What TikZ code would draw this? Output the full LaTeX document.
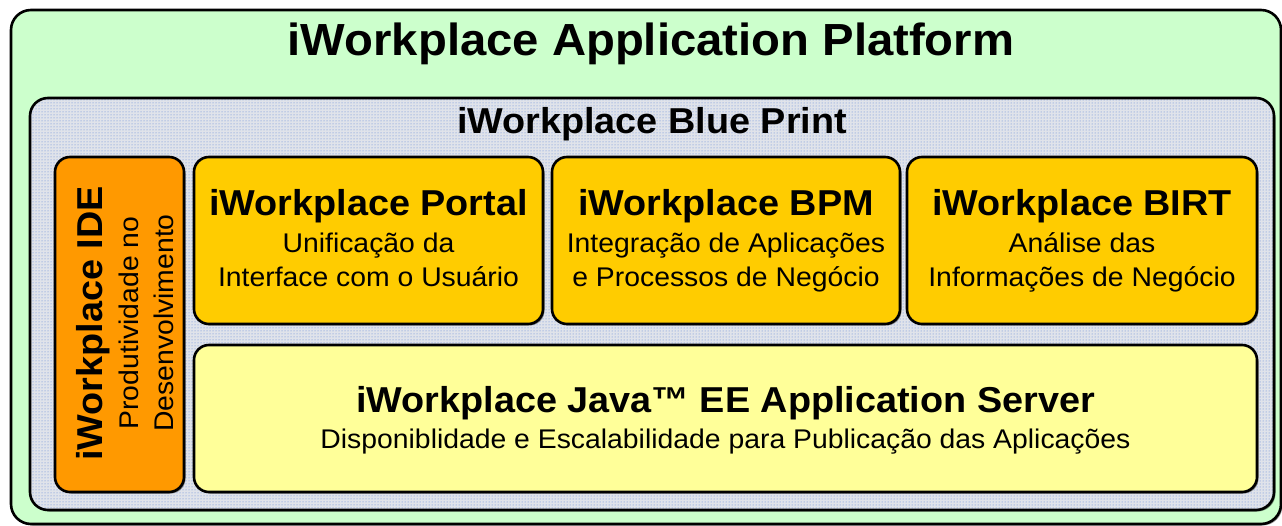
\documentclass[tikz,border=0pt]{standalone}
\usepackage{fontspec}
\setmainfont{Liberation Sans}[FakeStretch=1.05]
\usetikzlibrary{patterns,shadows}
\definecolor{outergreen}{RGB}{204,255,204}
\definecolor{dotbase}{RGB}{224,227,234}
\definecolor{dotblue}{RGB}{90,130,215}
\definecolor{idecol}{RGB}{255,153,0}
\definecolor{modcol}{RGB}{255,204,0}
\definecolor{javacol}{RGB}{255,255,153}
\begin{document}
\begin{tikzpicture}[x=1pt,y=-1pt,
  boxframe/.style={draw=black, line width=2.6pt, rounded corners=15pt, inner sep=0pt, outer sep=0pt},
  boxshadow/.style={drop shadow={shadow xshift=1.5pt, shadow yshift=-1.5pt, opacity=0.45, fill=black}},
  ttl/.style={anchor=base, font=\bfseries\fontsize{36}{40}\selectfont, inner sep=0pt},
  subtxt/.style={anchor=base, font=\fontsize{27}{31}\selectfont, inner sep=0pt},
]
\useasboundingbox (0,0) rectangle (1282,526);
% outer platform
\node[boxframe, boxshadow, fill=outergreen, rounded corners=20pt, minimum width=1270pt, minimum height=514pt] (platform) at (646,267) {};
\node[anchor=base, inner sep=0pt, font=\bfseries\fontsize{45}{50}\selectfont] (ptitle) at (651,56) {iWorkplace Application Platform};
% blue print
\node[boxframe, boxshadow, preaction={fill=dotbase}, pattern=dots, pattern color=dotblue, rounded corners=18pt, minimum width=1244pt, minimum height=412pt] (blueprint) at (652,304) {};
\node[ttl] (bptitle) at (652,134) {iWorkplace Blue Print};
% IDE
\node[boxframe, boxshadow, fill=idecol, minimum width=129pt, minimum height=335pt] (ide) at (119.5,324.5) {};
\node[ttl, rotate=90] (idet) at (102,323.5) {iWorkplace IDE};
\node[subtxt, rotate=90] (ides1) at (138,323) {Produtividade no};
\node[subtxt, rotate=90] (ides2) at (173,323) {Desenvolvimento};
% Portal
\node[boxframe, boxshadow, fill=modcol, minimum width=349pt, minimum height=167pt] (portal) at (368.5,240.5) {};
\node[ttl] (portalt) at (368.5,216) {iWorkplace Portal};
\node[subtxt] (portals1) at (368.5,253) {Unificação da};
\node[subtxt] (portals2) at (368.5,287) {Interface com o Usuário};
% BPM
\node[boxframe, boxshadow, fill=modcol, minimum width=348pt, minimum height=167pt] (bpm) at (726,240.5) {};
\node[ttl] (bpmt) at (726,216) {iWorkplace BPM};
\node[subtxt] (bpms1) at (726,253) {Integração de Aplicações};
\node[subtxt] (bpms2) at (726,287) {e Processos de Negócio};
% BIRT
\node[boxframe, boxshadow, fill=modcol, minimum width=350pt, minimum height=167pt] (birt) at (1082,240.5) {};
\node[ttl] (birtt) at (1082,216) {iWorkplace BIRT};
\node[subtxt] (birts1) at (1082,253) {Análise das};
\node[subtxt] (birts2) at (1082,287) {Informações de Negócio};
% Java
\node[boxframe, boxshadow, fill=javacol, minimum width=1063pt, minimum height=147pt] (java) at (725.5,418.5) {};
\node[ttl] (javat) at (725.5,412) {iWorkplace Java™ EE Application Server};
\node[subtxt] (javas) at (725.5,448) {Disponiblidade e Escalabilidade para Publicação das Aplicações};
\end{tikzpicture}
\end{document}
